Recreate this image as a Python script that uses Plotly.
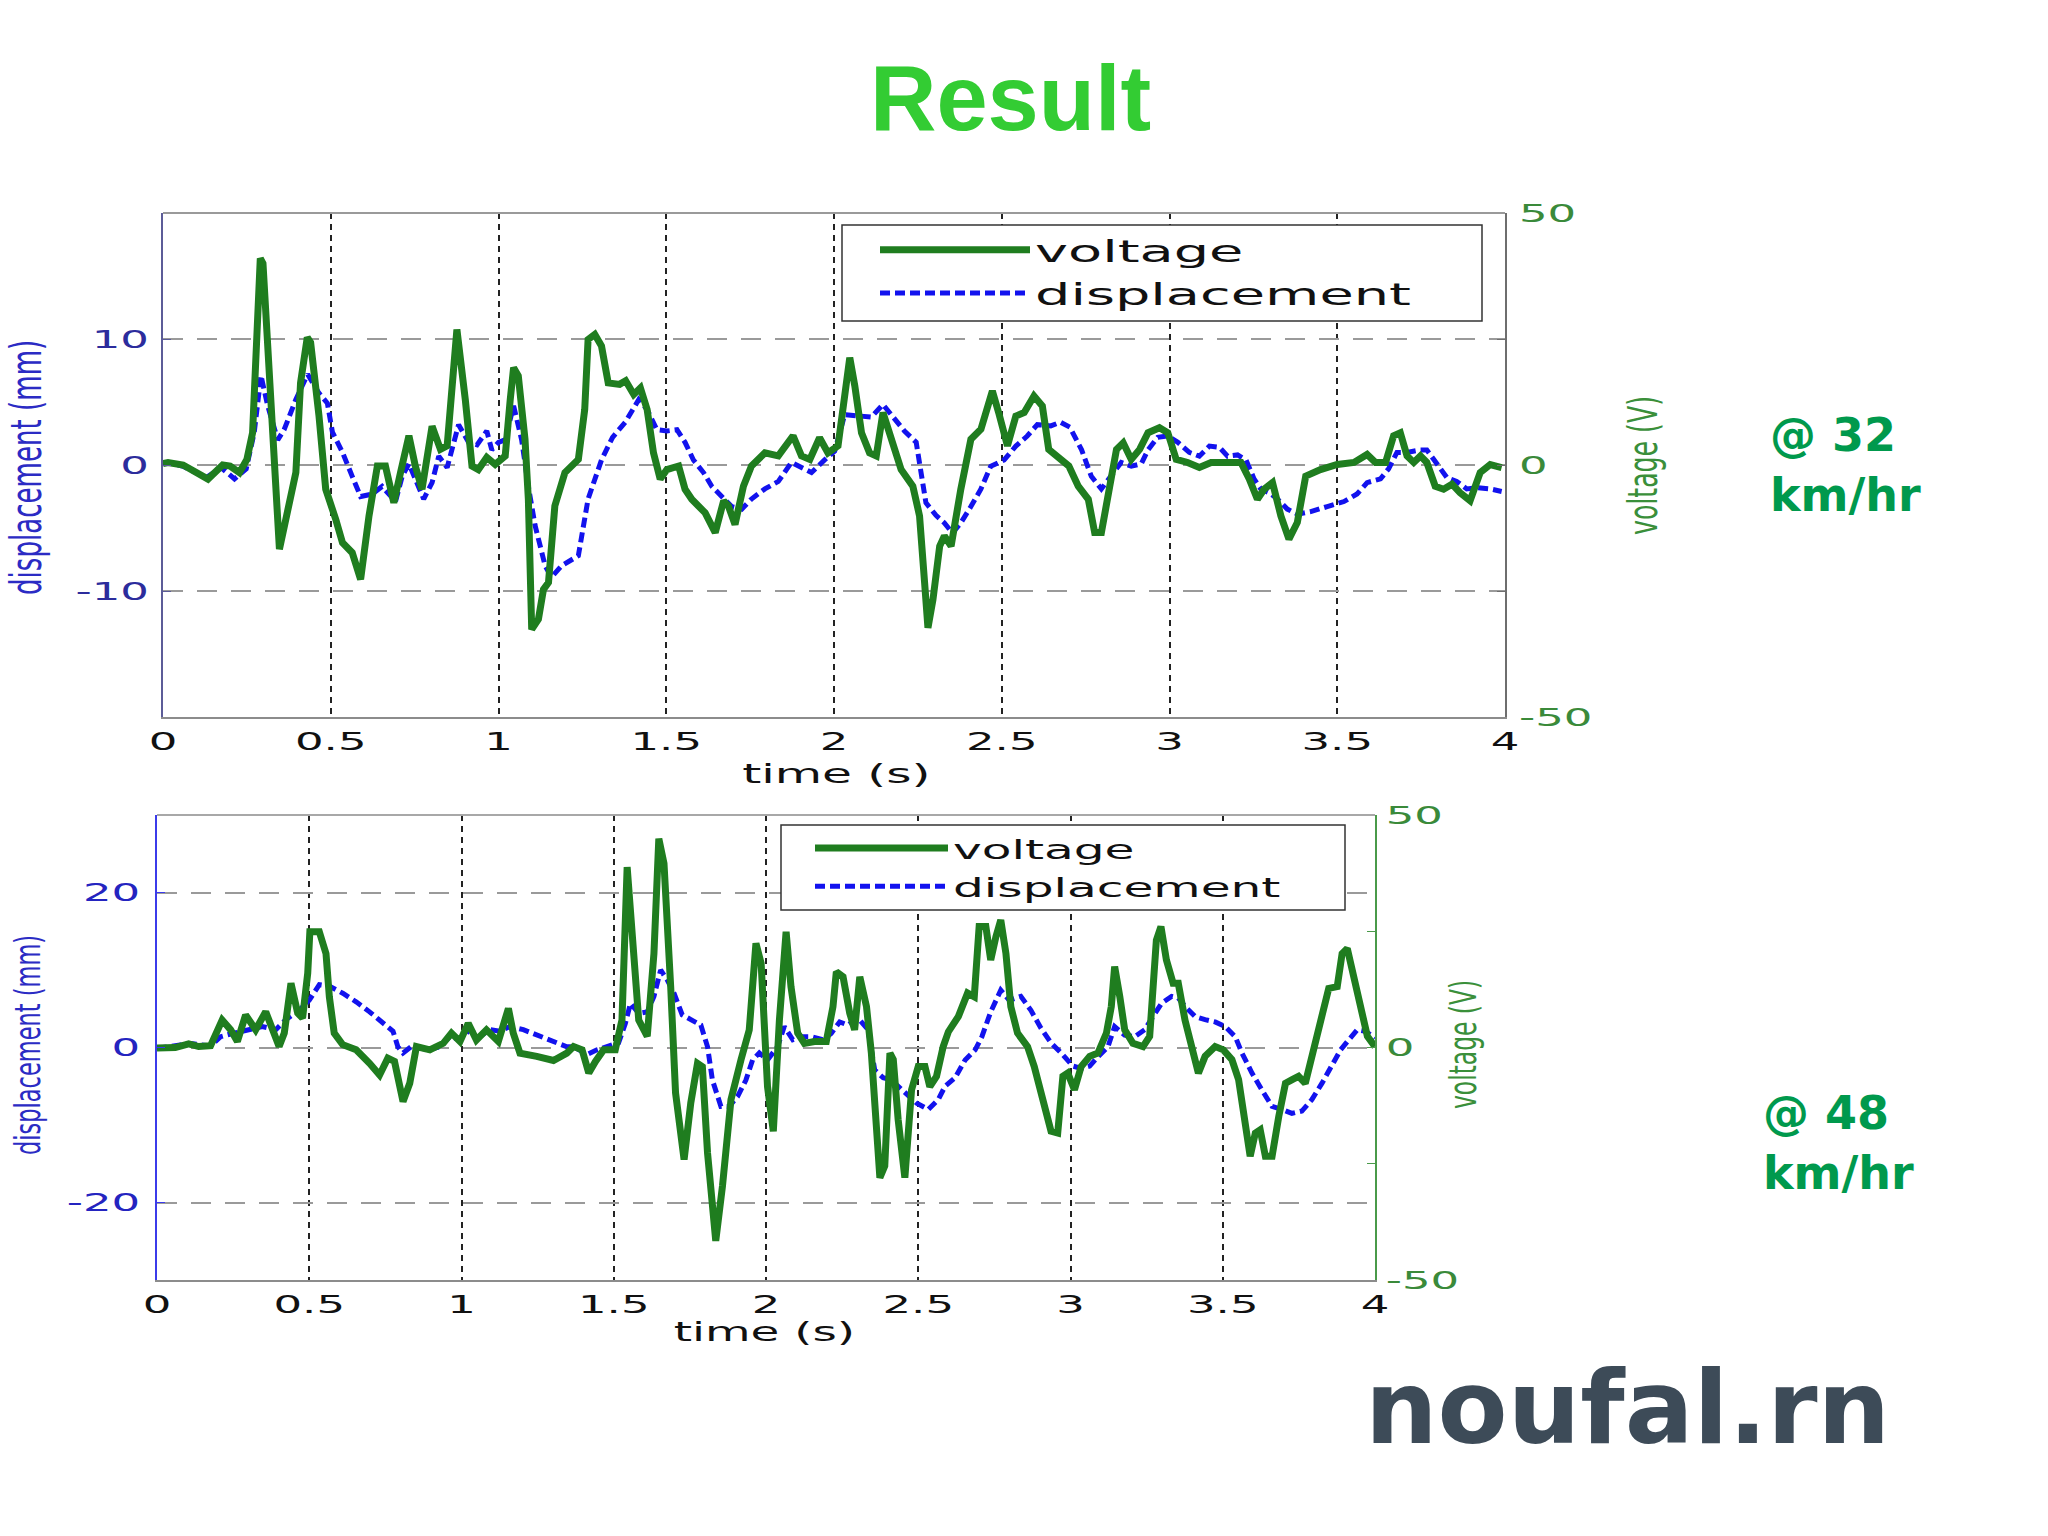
import plotly.graph_objects as go

# ---------------- data ----------------
# 32 km/hr : voltage (V) and displacement (mm)
T1V_T = [
    0.000, 0.015, 0.060, 0.134, 0.178, 0.200, 0.228, 0.250, 0.267, 0.283,
    0.290, 0.298, 0.347, 0.396, 0.410, 0.430, 0.440, 0.465, 0.485, 0.515,
    0.535, 0.564, 0.589, 0.614, 0.639, 0.663, 0.688, 0.708, 0.733, 0.752,
    0.772, 0.802, 0.827, 0.847, 0.876, 0.901, 0.921, 0.940, 0.965, 0.990,
    1.020, 1.035, 1.045, 1.059, 1.079, 1.089, 1.099, 1.119, 1.134, 1.149,
    1.168, 1.198, 1.238, 1.257, 1.267, 1.287, 1.307, 1.327, 1.361, 1.379,
    1.403, 1.423, 1.443, 1.462, 1.482, 1.502, 1.537, 1.556, 1.576, 1.616,
    1.646, 1.671, 1.685, 1.705, 1.730, 1.754, 1.794, 1.834, 1.854, 1.878,
    1.903, 1.928, 1.957, 1.982, 2.012, 2.032, 2.047, 2.062, 2.082, 2.106,
    2.126, 2.146, 2.171, 2.200, 2.235, 2.255, 2.270, 2.280, 2.295, 2.315,
    2.329, 2.349, 2.378, 2.408, 2.438, 2.472, 2.492, 2.517, 2.542, 2.567,
    2.596, 2.621, 2.640, 2.665, 2.700, 2.728, 2.758, 2.777, 2.797, 2.822,
    2.842, 2.862, 2.886, 2.911, 2.936, 2.970, 2.995, 3.020, 3.054, 3.089,
    3.124, 3.173, 3.213, 3.238, 3.262, 3.282, 3.307, 3.332, 3.356, 3.381,
    3.406, 3.450, 3.500, 3.550, 3.589, 3.614, 3.644, 3.668, 3.688, 3.708,
    3.728, 3.748, 3.767, 3.792, 3.817, 3.842, 3.866, 3.896, 3.926, 3.956,
    3.990]
T1V = [
    0.3, 0.5, 0.0, -2.8, 0.0, -0.2, -1.5, 1.1, 6.4, 36.0,
    41.0, 40.0, -16.7, -1.5, 16.3, 25.3, 24.3, 9.7, -4.8, -10.8,
    -15.4, -17.4, -22.7, -10.1, -0.2, -0.2, -7.5, -1.5, 5.8, -0.2,
    -4.8, 7.7, 3.1, 3.8, 26.9, 13.0, -0.2, -0.9, 1.5, 0.1,
    1.8, 13.0, 19.3, 17.7, 5.1, -6.8, -32.6, -30.6, -24.7, -23.3,
    -8.1, -1.5, 1.1, 11.0, 24.9, 25.9, 23.6, 16.3, 16.0, 16.7,
    14.0, 15.3, 11.0, 2.4, -2.8, -0.9, -0.2, -4.8, -6.8, -9.5,
    -13.4, -7.1, -8.1, -11.8, -4.2, -0.2, 2.4, 1.8, 3.8, 5.8,
    1.8, 1.1, 5.4, 2.4, 3.8, 13.0, 21.3, 15.7, 6.4, 2.4,
    1.8, 10.4, 5.1, -0.9, -4.2, -10.1, -23.3, -32.3, -26.7, -16.1,
    -14.1, -16.1, -4.8, 5.1, 7.1, 14.7, 10.1, 3.8, 9.7, 10.4,
    13.7, 11.7, 3.1, 1.8, -0.2, -4.2, -6.8, -13.4, -13.4, -4.2,
    3.1, 4.4, 1.1, 3.1, 6.4, 7.4, 6.4, 1.1, 0.5, -0.5,
    0.5, 0.5, 0.5, -2.8, -6.8, -4.8, -3.5, -10.1, -14.7, -11.4,
    -2.2, -0.9, 0.1, 0.5, 2.1, 0.5, 0.5, 5.8, 6.4, 1.8,
    0.5, 1.8, 0.5, -4.2, -4.8, -3.8, -5.5, -7.1, -1.5, 0.1,
    -0.5]

T1D_T = [
    0.000, 0.015, 0.060, 0.129, 0.173, 0.213, 0.248, 0.272, 0.292, 0.312,
    0.342, 0.361, 0.396, 0.431, 0.465, 0.490, 0.505, 0.535, 0.564, 0.589,
    0.624, 0.653, 0.693, 0.713, 0.733, 0.752, 0.777, 0.802, 0.822, 0.847,
    0.881, 0.911, 0.936, 0.965, 0.980, 1.000, 1.020, 1.045, 1.069, 1.089,
    1.109, 1.139, 1.158, 1.188, 1.238, 1.267, 1.307, 1.340, 1.378, 1.418,
    1.443, 1.472, 1.502, 1.532, 1.556, 1.581, 1.611, 1.636, 1.665, 1.695,
    1.725, 1.754, 1.794, 1.834, 1.873, 1.903, 1.933, 1.972, 2.002, 2.032,
    2.072, 2.111, 2.146, 2.180, 2.210, 2.245, 2.260, 2.274, 2.304, 2.329,
    2.353, 2.378, 2.408, 2.438, 2.467, 2.507, 2.542, 2.576, 2.606, 2.646,
    2.675, 2.703, 2.738, 2.767, 2.797, 2.827, 2.856, 2.886, 2.916, 2.936,
    2.965, 2.995, 3.025, 3.059, 3.089, 3.119, 3.149, 3.173, 3.203, 3.228,
    3.252, 3.272, 3.297, 3.322, 3.351, 3.381, 3.421, 3.470, 3.520, 3.559,
    3.589, 3.629, 3.653, 3.678, 3.708, 3.748, 3.767, 3.797, 3.827, 3.856,
    3.886, 3.916, 3.956, 3.990]
T1D = [
    0.2, 0.2, -0.1, -1.0, -0.2, -1.1, -0.3, 2.6, 7.1, 4.7,
    2.0, 2.8, 5.2, 7.2, 5.7, 4.9, 2.6, 1.0, -0.9, -2.5,
    -2.3, -1.7, -2.9, -0.9, 0.1, -1.1, -2.7, -1.4, 0.7, -0.2,
    3.2, 1.8, 1.6, 2.7, 1.2, 1.8, 2.0, 4.7, 2.0, -1.7,
    -4.8, -8.0, -8.9, -8.0, -7.2, -2.7, 0.4, 2.2, 3.4, 5.2,
    4.4, 2.8, 2.7, 2.8, 1.8, 0.4, -0.6, -1.7, -2.5, -3.3,
    -3.5, -2.7, -1.9, -1.3, 0.2, -0.2, -0.6, 0.4, 1.1, 4.0,
    3.9, 3.8, 4.8, 3.6, 2.7, 1.8, -0.6, -3.0, -4.0, -4.6,
    -5.4, -4.6, -3.3, -1.9, -0.1, 0.4, 1.5, 2.3, 3.2, 3.1,
    3.4, 3.0, 1.2, -0.9, -1.9, -0.9, 0.2, -0.1, 0.1, 1.2,
    2.2, 2.3, 1.8, 1.0, 0.7, 1.5, 1.4, 0.7, 0.8, 0.4,
    -1.1, -1.9, -2.2, -2.7, -3.5, -3.9, -3.7, -3.3, -2.9, -2.3,
    -1.4, -1.1, -0.3, 1.0, 1.0, 1.2, 1.2, 0.1, -1.0, -1.3,
    -1.9, -1.8, -1.9, -2.1]

# 48 km/hr : voltage (V) and displacement (mm)
T2V_T = [
    0.000, 0.060, 0.104, 0.137, 0.176, 0.214, 0.242, 0.264, 0.291, 0.324,
    0.357, 0.379, 0.401, 0.418, 0.440, 0.462, 0.478, 0.495, 0.502, 0.533,
    0.555, 0.566, 0.582, 0.610, 0.654, 0.698, 0.731, 0.758, 0.780, 0.808,
    0.830, 0.852, 0.896, 0.940, 0.967, 0.995, 1.022, 1.049, 1.082, 1.121,
    1.154, 1.170, 1.192, 1.247, 1.302, 1.346, 1.368, 1.396, 1.418, 1.440,
    1.467, 1.505, 1.527, 1.544, 1.560, 1.582, 1.610, 1.632, 1.648, 1.665,
    1.687, 1.703, 1.731, 1.753, 1.775, 1.791, 1.808, 1.835, 1.857, 1.885,
    1.918, 1.945, 1.967, 1.984, 2.005, 2.024, 2.044, 2.066, 2.082, 2.104,
    2.126, 2.159, 2.198, 2.220, 2.231, 2.253, 2.275, 2.291, 2.308, 2.330,
    2.346, 2.363, 2.374, 2.390, 2.407, 2.418, 2.434, 2.456, 2.478, 2.500,
    2.522, 2.538, 2.560, 2.582, 2.599, 2.632, 2.662, 2.684, 2.700, 2.722,
    2.738, 2.755, 2.771, 2.788, 2.804, 2.826, 2.859, 2.881, 2.914, 2.936,
    2.958, 2.975, 2.991, 3.013, 3.035, 3.063, 3.090, 3.118, 3.134, 3.145,
    3.162, 3.178, 3.205, 3.238, 3.260, 3.282, 3.297, 3.315, 3.337, 3.354,
    3.376, 3.398, 3.420, 3.442, 3.475, 3.502, 3.530, 3.552, 3.574, 3.590,
    3.607, 3.623, 3.640, 3.662, 3.684, 3.706, 3.728, 3.749, 3.771, 3.799,
    3.826, 3.848, 3.876, 3.892, 3.909, 3.925, 3.953, 3.975, 4.000]
T2V = [
    -0.1, 0.0, 0.8, 0.2, 0.4, 5.9, 3.8, 1.3, 7.0, 3.8,
    7.7, 3.8, 0.2, 3.1, 13.8, 7.4, 6.3, 16.0, 24.9, 24.9,
    20.2, 10.9, 3.1, 0.6, -0.5, -3.4, -5.9, -2.3, -3.0, -11.6,
    -7.7, 0.2, -0.5, 0.9, 3.1, 1.3, 5.2, 1.6, 3.8, 1.3,
    8.4, 3.1, -1.2, -1.9, -2.8, -1.2, 0.2, -0.5, -5.5, -3.0,
    -0.5, -0.5, 5.9, 38.8, 23.8, 5.9, 2.4, 20.2, 44.9, 39.6,
    13.1, -9.8, -24.1, -11.9, -3.4, -4.1, -22.7, -41.6, -29.8, -11.2,
    -2.6, 3.8, 22.4, 18.1, -8.4, -18.0, 5.9, 24.9, 13.1, 3.1,
    0.9, 1.3, 1.3, 8.8, 16.3, 15.2, 7.4, 3.8, 15.2, 8.8,
    -1.2, -15.5, -28.0, -25.5, -1.2, -2.6, -15.5, -28.0, -9.1, -4.1,
    -4.1, -8.4, -6.2, 0.2, 3.4, 6.7, 11.7, 10.9, 26.0, 26.0,
    18.8, 23.8, 27.4, 20.2, 8.8, 3.1, 0.2, -4.1, -13.4, -18.0,
    -18.4, -6.2, -5.5, -9.1, -4.1, -1.9, -1.2, 3.1, 8.8, 17.4,
    10.9, 3.8, 0.9, 0.2, 2.4, 23.1, 26.0, 18.8, 13.8, 13.8,
    5.9, -0.5, -5.5, -1.9, 0.2, -0.5, -2.6, -6.9, -15.5, -23.4,
    -18.4, -17.7, -23.4, -23.4, -14.8, -7.7, -6.9, -6.2, -7.7, -0.5,
    7.4, 12.7, 13.1, 20.2, 21.3, 16.7, 7.4, 2.4, 0.2]

T2D_T = [
    0.000, 0.060, 0.110, 0.176, 0.209, 0.247, 0.302, 0.346, 0.390, 0.423,
    0.467, 0.500, 0.533, 0.566, 0.610, 0.654, 0.698, 0.742, 0.775, 0.791,
    0.808, 0.841, 0.885, 0.929, 0.962, 0.995, 1.027, 1.060, 1.093, 1.126,
    1.159, 1.203, 1.247, 1.302, 1.346, 1.368, 1.412, 1.445, 1.478, 1.516,
    1.538, 1.555, 1.582, 1.610, 1.632, 1.654, 1.676, 1.698, 1.725, 1.753,
    1.786, 1.808, 1.824, 1.852, 1.879, 1.907, 1.934, 1.956, 1.978, 2.005,
    2.038, 2.060, 2.088, 2.115, 2.148, 2.187, 2.214, 2.242, 2.269, 2.302,
    2.335, 2.357, 2.385, 2.412, 2.434, 2.467, 2.495, 2.533, 2.566, 2.588,
    2.621, 2.654, 2.687, 2.709, 2.738, 2.771, 2.799, 2.837, 2.870, 2.903,
    2.936, 2.969, 3.008, 3.035, 3.063, 3.090, 3.123, 3.145, 3.178, 3.211,
    3.244, 3.271, 3.299, 3.332, 3.354, 3.376, 3.409, 3.442, 3.475, 3.508,
    3.541, 3.563, 3.596, 3.629, 3.662, 3.695, 3.727, 3.760, 3.793, 3.826,
    3.859, 3.887, 3.914, 3.942, 3.969, 4.000]
T2D = [
    -0.1, 0.2, 0.5, 0.2, 1.4, 1.8, 2.3, 2.7, 2.3, 3.6,
    4.8, 6.1, 8.1, 7.9, 7.0, 5.9, 4.6, 3.1, 2.1, 0.1,
    -0.7, 0.3, -0.3, 0.1, 1.4, 1.0, 2.3, 1.4, 2.3, 2.1,
    2.7, 2.3, 1.6, 0.8, 0.1, 0.1, -0.9, -0.3, 0.1, 0.6,
    3.1, 5.7, 4.4, 4.6, 6.6, 10.0, 8.7, 7.0, 4.2, 3.6,
    2.9, 0.1, -4.2, -7.6, -7.6, -6.3, -4.2, -1.6, -0.7, -1.6,
    0.1, 2.7, 1.0, 1.4, 1.4, 1.0, 1.8, 3.3, 2.9, 3.8,
    2.3, -2.9, -3.9, -4.2, -5.0, -6.3, -7.2, -8.0, -6.7, -5.0,
    -3.9, -1.6, -0.3, 1.4, 4.6, 7.4, 6.1, 6.6, 4.8, 2.5,
    0.6, -0.7, -2.4, -2.7, -2.4, -1.2, 0.1, 2.7, 1.6, 1.4,
    2.3, 4.0, 5.7, 6.6, 6.4, 5.3, 4.0, 3.6, 3.3, 2.7,
    1.4, -0.7, -3.3, -5.5, -7.6, -8.0, -8.5, -8.2, -6.7, -4.6,
    -2.4, -0.3, 1.0, 2.3, 2.1, 1.2]

X_TICKS = [0, 0.5, 1, 1.5, 2, 2.5, 3, 3.5, 4]
X_LABELS = ["0", "0.5", "1", "1.5", "2", "2.5", "3", "3.5", "4"]
V_TICKS = [-50, -25, 0, 25, 50]
V_LABELS = ["-50", "", "0", "", "50"]
D1_TICKS = [-10, 0, 10]
D1_LABELS = ["-10", "0", "10"]
D2_TICKS = [-20, 0, 20]
D2_LABELS = ["-20", "0", "20"]

# ---------------- layout helpers ----------------
W, H = 2048, 1536
def px(x):
    return x / W
def py(y):
    return 1 - y / H

L1, R1, T1, B1 = 163, 1505, 213, 717
L2, R2, T2, B2 = 157, 1375, 815, 1280

GREEN = "#1f7d1f"
BLUE = "#1212ee"
TICKFONT = "DejaVu Sans"
NARROW = "Liberation Sans Narrow, DejaVu Sans Condensed, sans-serif"

fig = go.Figure()

# top chart
fig.add_trace(go.Scatter(x=T1D_T, y=T1D, xaxis="x", yaxis="y", mode="lines",
                         name="displacement", legend="legend", legendrank=2, legendgroup="d1",
                         line=dict(color=BLUE, width=5, dash="10px,5px")))
fig.add_trace(go.Scatter(x=T1V_T, y=T1V, xaxis="x", yaxis="y2", mode="lines",
                         name="voltage", legend="legend", legendrank=1, legendgroup="v1",
                         line=dict(color=GREEN, width=7)))
# bottom chart
fig.add_trace(go.Scatter(x=T2D_T, y=T2D, xaxis="x2", yaxis="y3", mode="lines",
                         name="displacement", legend="legend2", legendrank=2, legendgroup="d2",
                         line=dict(color=BLUE, width=5, dash="10px,5px")))
fig.add_trace(go.Scatter(x=T2V_T, y=T2V, xaxis="x2", yaxis="y4", mode="lines",
                         name="voltage", legend="legend2", legendrank=1, legendgroup="v2",
                         line=dict(color=GREEN, width=7)))

xcommon = dict(range=[0, 4], tickmode="array", tickvals=X_TICKS, ticktext=X_LABELS,
               showgrid=True, gridcolor="#222222", griddash="6px,5px", gridwidth=1.5,
               zeroline=False, showline=True, linecolor="#8c8c8c", linewidth=2,
               ticks="", ticklen=0, automargin=False, ticklabelstandoff=1,
               tickfont=dict(family=TICKFONT, size=25, color="#111111"))

def ycommon(standoff):
    return dict(tickmode="array", zeroline=False, showline=True, ticks="inside", ticklen=8,
                automargin=False, ticklabelstandoff=standoff)

fig.update_layout(
    width=W, height=H, autosize=False,
    margin=dict(l=0, r=0, t=0, b=0, pad=0),
    paper_bgcolor="white", plot_bgcolor="white",
    showlegend=True,
    xaxis=dict(domain=[px(L1), px(R1)], anchor="y", **xcommon),
    yaxis=dict(domain=[py(B1), py(T1)], anchor="x", range=[-20, 20],
               tickvals=D1_TICKS, ticktext=D1_LABELS,
               showgrid=True, gridcolor="#9a9a9a", griddash="20px,14px", gridwidth=1.5,
               linecolor="#5c5c98", linewidth=2, tickcolor="#5c5c98",
               tickfont=dict(family=TICKFONT, size=25, color="#2c2c9c"), **ycommon(7)),
    yaxis2=dict(overlaying="y", side="right", anchor="x", range=[-50, 50],
                tickvals=V_TICKS, ticktext=V_LABELS, showgrid=False,
                linecolor="#6e6e6e", linewidth=2, tickcolor="#6e6e6e",
                tickfont=dict(family=TICKFONT, size=25, color="#3a8a3a"), **ycommon(7)),
    xaxis2=dict(domain=[px(L2), px(R2)], anchor="y3", **xcommon),
    yaxis3=dict(domain=[py(B2), py(T2)], anchor="x2", range=[-30, 30],
                tickvals=D2_TICKS, ticktext=D2_LABELS,
                showgrid=True, gridcolor="#9a9a9a", griddash="20px,14px", gridwidth=1.5,
                linecolor="#3b3bea", linewidth=1.5, tickcolor="#3b3bea",
                tickfont=dict(family=TICKFONT, size=25, color="#2424c0"), **ycommon(10)),
    yaxis4=dict(overlaying="y3", side="right", anchor="x2", range=[-50, 50],
                tickvals=V_TICKS, ticktext=V_LABELS, showgrid=False,
                linecolor="#4a9a4a", linewidth=1.5, tickcolor="#4a9a4a",
                tickfont=dict(family=TICKFONT, size=25, color="#3a8a3a"), **ycommon(4)),
    legend=dict(x=px(875), y=py(223), xanchor="left", yanchor="top",
                bgcolor="rgba(0,0,0,0)", borderwidth=0, itemwidth=150,
                traceorder="normal", tracegroupgap=9,
                font=dict(family=TICKFONT, size=31, color="#111111")),
    legend2=dict(x=px(810), y=py(824), xanchor="left", yanchor="top",
                 bgcolor="rgba(0,0,0,0)", borderwidth=0, itemwidth=133,
                 traceorder="normal", tracegroupgap=9,
                 font=dict(family=TICKFONT, size=27, color="#111111")),
)

shapes = [
    # top border lines of the two frames
    dict(type="line", xref="paper", yref="paper", x0=px(L1), x1=px(R1), y0=py(T1), y1=py(T1),
         line=dict(color="#9a9a9a", width=2)),
    dict(type="line", xref="paper", yref="paper", x0=px(L2), x1=px(R2), y0=py(T2), y1=py(T2),
         line=dict(color="#a8a8a8", width=2)),
    # legend boxes
    dict(type="rect", xref="paper", yref="paper", x0=px(842), x1=px(1482), y0=py(321), y1=py(225),
         fillcolor="white", line=dict(color="#333333", width=1.5), layer="above"),
    dict(type="rect", xref="paper", yref="paper", x0=px(781), x1=px(1345), y0=py(910), y1=py(825),
         fillcolor="white", line=dict(color="#333333", width=1.5), layer="above"),
]
fig.update_layout(shapes=shapes)

ann = []
def text(t, x, y, size, color, family, angle=0, xanchor="center", yanchor="middle", align="center"):
    ann.append(dict(text=t, x=px(x), y=py(y), xref="paper", yref="paper", showarrow=False,
                    textangle=angle, xanchor=xanchor, yanchor=yanchor, align=align,
                    font=dict(family=family, size=size, color=color)))

text("<b>Result</b>", 1010, 98, 92, "#33cc33", "Liberation Sans, Arial, sans-serif")
text("<b>@ 32<br>km/hr</b>", 1768, 465, 46, "#00994d", "DejaVu Sans", xanchor="left", align="left")
text("<b>@ 48<br>km/hr</b>", 1761, 1143, 46, "#00994d", "DejaVu Sans", xanchor="left", align="left")
text("<b>noufal.rn</b>", 1627, 1407, 102, "#3d4b58", "DejaVu Sans")

# axis titles
text("displacement (mm)", 27, 468, 29, "#2b2bc4", NARROW, angle=-90)
text("voltage (V)", 1643, 466, 28, "#3a8f3a", NARROW, angle=-90)
text("time (s)", 836, 773, 27, "#111111", TICKFONT)
text("displacement (mm)", 27, 1045, 25, "#2b2bc4", NARROW, angle=-90)
text("voltage (V)", 1463, 1045, 26, "#3a8f3a", NARROW, angle=-90)
text("time (s)", 764, 1332, 26, "#111111", TICKFONT)

fig.update_layout(annotations=ann)

# The original MATLAB figure was pasted stretched horizontally; widen its
# plot texts (ticks, legend, titles) the same way, keeping them as text.
STRETCH_JS = """
(function(){
  var gd = document.getElementsByClassName('plotly-graph-div')[0];
  if (!gd) return;
  function apply(el, sx, sy){
    try {
      var cur = el.getAttribute('transform') || '';
      if (el.__done !== undefined && el.__done === cur) return;
      var b = el.getBBox();
      var anc = el.getAttribute('text-anchor') || 'start';
      var ax = anc === 'middle' ? b.x + b.width / 2 : (anc === 'end' ? b.x + b.width : b.x);
      var ay = b.y + b.height / 2;
      var nt = cur + ' translate(' + ax + ',' + ay + ') scale(' + sx + ',' + sy + ') translate(' + (-ax) + ',' + (-ay) + ')';
      el.setAttribute('transform', nt);
      el.__done = nt;
    } catch (e) {}
  }
  function run(){
    var els = gd.querySelectorAll('g.xtick text, g.x2tick text, g.ytick text, g.y2tick text, g.y3tick text, g.y4tick text, text.legendtext, text.legend2text');
    Array.prototype.forEach.call(els, function(el){ apply(el, 1.8, 1); });
    Array.prototype.forEach.call(gd.querySelectorAll('text.annotation-text'), function(el){
      var t = el.textContent;
      if (t === 'time (s)') apply(el, 1.8, 1);
      else if (t === 'displacement (mm)' || t === 'voltage (V)') apply(el, 1, 1.45);
    });
    Array.prototype.forEach.call(gd.querySelectorAll('.scrollbox, g.legend2 g, g.legend g'), function(el){
      if (el.hasAttribute('clip-path')) el.removeAttribute('clip-path');
    });
  }
  run();
  [30, 150, 500, 1200].forEach(function(ms){ setTimeout(run, ms); });
})();
document.body.style.margin = '0';
document.documentElement.style.overflow = 'hidden';
"""

fig.write_html("out.html", config={"displayModeBar": False}, post_script=STRETCH_JS)
